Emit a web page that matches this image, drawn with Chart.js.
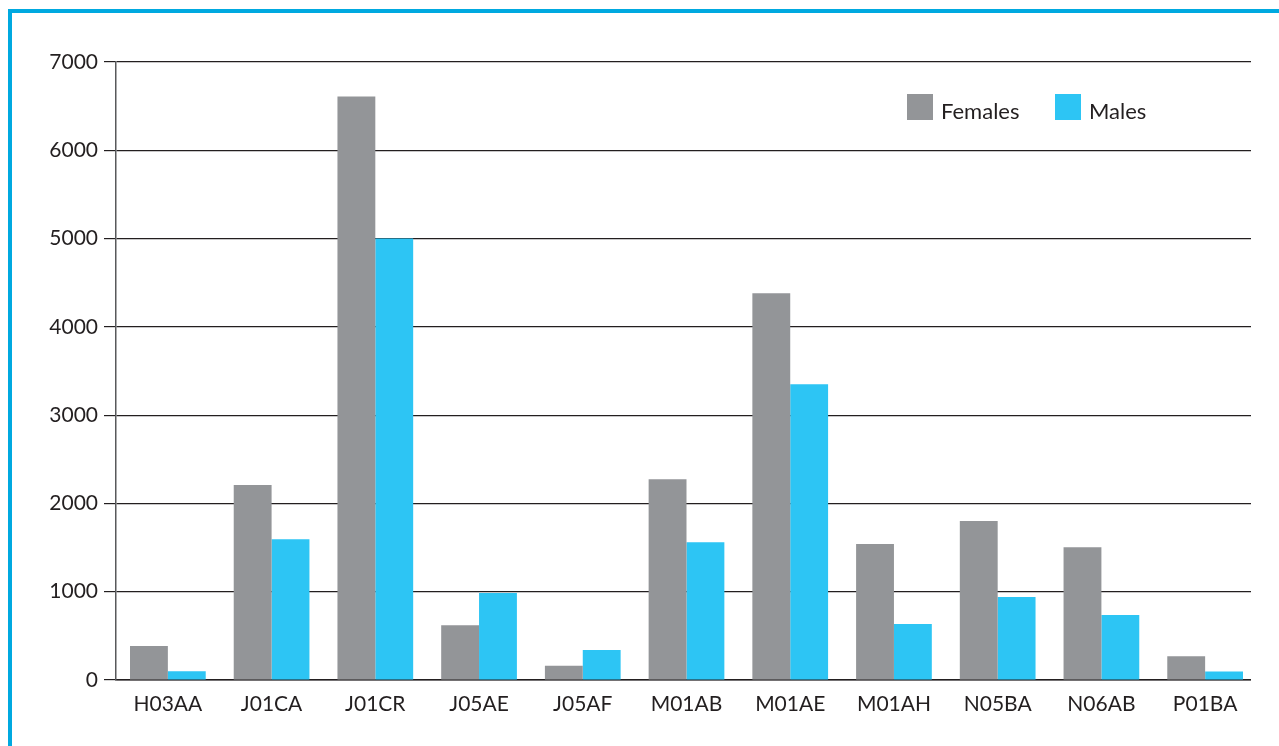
<!DOCTYPE html>
<html>
<head>
<meta charset="utf-8">
<script src="https://cdn.jsdelivr.net/npm/chart.js@4.4.1/dist/chart.umd.min.js"></script>
<style>
  html, body { margin: 0; padding: 0; background: #fff; width: 1279px; height: 746px; overflow: hidden; }
  #frame { position: absolute; left: 8px; top: 9px; width: 1271px; height: 737px;
           border-left: 4px solid #00A9E0; border-top: 4px solid #00A9E0; box-sizing: border-box; }
  #wrap { position: absolute; left: 0; top: 0; width: 1279px; height: 746px; }
</style>
</head>
<body>
<div id="frame"></div>
<div id="wrap"><canvas id="c" width="1279" height="746"></canvas></div>
<script>
const categories = ["H03AA", "J01CA", "J01CR", "J05AE", "J05AF", "M01AB", "M01AE", "M01AH", "N05BA", "N06AB", "P01BA"];
const females = [385, 2210, 6610, 620, 160, 2275, 4380, 1540, 1800, 1505, 270];
const males = [100, 1595, 5000, 985, 340, 1560, 3350, 635, 940, 735, 95];
const yTicks = [0, 1000, 2000, 3000, 4000, 5000, 6000, 7000];

const FONT = "Lato";
const TEXT = "#231F20";

// Lines in the reference stop a few pixels short of the last category's edge.
const trimPlugin = {
  id: "trimGrid",
  beforeDatasetsDraw(chart) {
    const a = chart.chartArea, ctx = chart.ctx;
    ctx.save();
    ctx.fillStyle = "#fff";
    ctx.fillRect(a.right - 6, a.top - 3, 10, a.bottom - a.top + 6);
    ctx.restore();
  }
};

const legendPlugin = {
  id: "customLegend",
  afterDraw(chart) {
    const ctx = chart.ctx;
    const items = [
      { x: 907, label: chart.data.datasets[0].label, color: chart.data.datasets[0].backgroundColor },
      { x: 1055, label: chart.data.datasets[1].label, color: chart.data.datasets[1].backgroundColor }
    ];
    ctx.save();
    ctx.font = "22px " + FONT;
    ctx.textBaseline = "alphabetic";
    ctx.textAlign = "left";
    items.forEach(it => {
      ctx.fillStyle = it.color;
      ctx.fillRect(it.x, 94, 26, 26);
      ctx.fillStyle = TEXT;
      ctx.fillText(it.label, it.x + 34, 119);
    });
    ctx.restore();
  }
};

new Chart(document.getElementById("c"), {
  type: "bar",
  data: {
    labels: categories,
    datasets: [
      { label: "Females", data: females, backgroundColor: "#939598" },
      { label: "Males", data: males, backgroundColor: "#2DC5F4" }
    ]
  },
  options: {
    responsive: false,
    animation: false,
    devicePixelRatio: 1,
    layout: { padding: { left: 0, right: 22, top: 62, bottom: 0 } },
    plugins: { legend: { display: false }, tooltip: { enabled: false } },
    datasets: { bar: { categoryPercentage: 0.73, barPercentage: 1.0 } },
    scales: {
      x: {
        grid: { display: false, drawTicks: false },
        border: { display: true, color: "#231F20", width: 1.5 },
        ticks: { color: TEXT, font: { family: FONT, size: 21 }, padding: 12, maxRotation: 0 },
        afterFit(s) { s.height = 66; }
      },
      y: {
        min: 0, max: 7000,
        afterBuildTicks(s) { s.ticks = yTicks.map(v => ({ value: v })); },
        grid: { color: "#231F20", lineWidth: 1.2, tickLength: 12, drawTicks: true },
        border: { display: true, color: "#58595B", width: 1.5 },
        ticks: { color: TEXT, font: { family: FONT, size: 21 }, padding: 6,
                 callback: v => String(v) },
        afterFit(s) { s.width = 116; }
      }
    }
  },
  plugins: [trimPlugin, legendPlugin]
});
</script>
</body>
</html>
